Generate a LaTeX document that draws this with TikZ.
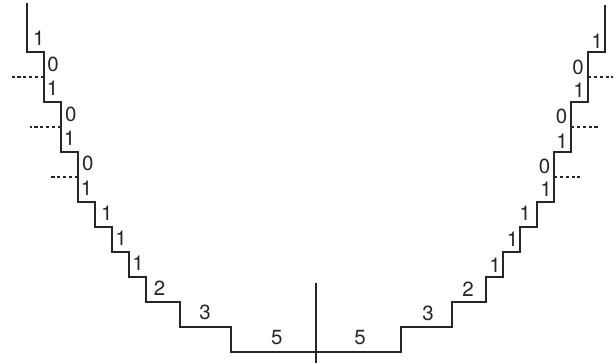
\documentclass[tikz,border=0pt]{standalone}
\usepackage{fontspec}
\setmainfont{TeX Gyre Heros}
\tikzset{
  stairline/.style={line width=2pt, line join=miter, draw=black!85},
  axisline/.style={line width=1.5pt, draw=black!85},
  zeroline/.style={line width=1.4pt, draw=black!85, dash pattern=on 3pt off 2pt},
  steplabel/.style={font=\fontsize{17.5}{19}\selectfont, inner sep=0pt, text=black!85},
}

\begin{document}
\begin{tikzpicture}[x=0.51cm, y=0.75cm]

  \useasboundingbox (-18.59,-0.48) rectangle (17.59,14.08);

  % ----------------------------------------------------------------
  % Staircase: left flank, bottom, right flank
  % ----------------------------------------------------------------
  \draw[stairline] (-17,13.96) |- (-16,12) |- (-15,10) |- (-14,8) |- (-13,6)
    |- (-12,5) |- (-11,4) |- (-10,3) |- (-8,2) |- (-5,1) |- (5,0)
    |- (8,1) |- (10,2) |- (11,3) |- (12,4) |- (13,5) |- (14,6)
    |- (15,8) |- (16,10) |- (17,12) -- (17,13.88);

  % centre line
  \draw[axisline] (0,2.76) -- (0,-0.44);

  % ----------------------------------------------------------------
  % Zero-width steps (dashed)
  % ----------------------------------------------------------------
  \draw[zeroline] (-16,11) -- (-17.9,11);
  \draw[zeroline] (-15,9) -- (-16.8,9);
  \draw[zeroline] (-14,7) -- (-15.7,7);
  \draw[zeroline] (16,11) -- (17.5,11);
  \draw[zeroline] (15,9) -- (16.7,9);
  \draw[zeroline] (14,7) -- (15.55,7);

  % ----------------------------------------------------------------
  % Step widths, left flank
  % ----------------------------------------------------------------
  \node[steplabel] (la) at (-16.3,12.56) {1};
  \node[steplabel] (lb) at (-15.47,11.5) {0};
  \node[steplabel] (lc) at (-15.5,10.54) {1};
  \node[steplabel] (ld) at (-14.43,9.52) {0};
  \node[steplabel] (le) at (-14.5,8.56) {1};
  \node[steplabel] (lf) at (-13.43,7.54) {0};
  \node[steplabel] (lg) at (-13.5,6.56) {1};
  \node[steplabel] (lh) at (-12.3,5.56) {1};
  \node[steplabel] (li) at (-11.47,4.56) {1};
  \node[steplabel] (lj) at (-10.47,3.54) {1};
  \node[steplabel] (lk) at (-9.2,2.56) {2};
  \node[steplabel] (ll) at (-6.53,1.58) {3};
  \node[steplabel] (lm) at (-2.3,0.56) {5};

  % ----------------------------------------------------------------
  % Step widths, right flank
  % ----------------------------------------------------------------
  \node[steplabel] (ra) at (16.53,12.45) {1};
  \node[steplabel] (rb) at (15.42,11.4) {0};
  \node[steplabel] (rc) at (15.47,10.46) {1};
  \node[steplabel] (rd) at (14.45,9.42) {0};
  \node[steplabel] (re) at (14.47,8.42) {1};
  \node[steplabel] (rf) at (13.45,7.42) {0};
  \node[steplabel] (rg) at (13.53,6.5) {1};
  \node[steplabel] (rh) at (12.3,5.54) {1};
  \node[steplabel] (ri) at (11.57,4.52) {1};
  \node[steplabel] (rj) at (10.53,3.46) {1};
  \node[steplabel] (rk) at (8.95,2.52) {2};
  \node[steplabel] (rl) at (6.59,1.56) {3};
  \node[steplabel] (rm) at (2.59,0.56) {5};

\end{tikzpicture}
\end{document}
